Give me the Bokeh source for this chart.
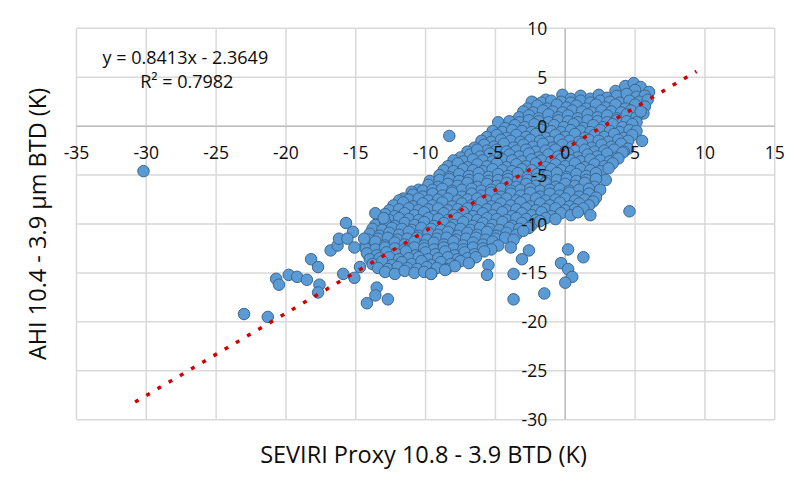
from bokeh.plotting import figure
from bokeh.models import ColumnDataSource, Range1d, FixedTicker
from bokeh.core.properties import value
from bokeh.embed import file_html
from bokeh.resources import INLINE

# ---------------- data ----------------
x_ticks = [-35, -30, -25, -20, -15, -10, -5, 0, 5, 10, 15]
y_ticks = [-30, -25, -20, -15, -10, -5, 0, 5, 10]
x_tick_labels = ["-35", "-30", "-25", "-20", "-15", "-10", "-5", "0", "5", "10", "15"]
y_tick_labels = ["-30", "-25", "-20", "-15", "-10", "-5", "0", "5", "10"]

x_title = "SEVIRI Proxy 10.8 - 3.9 BTD (K)"
y_title = "AHI 10.4 - 3.9 \u00b5m BTD (K)"
eq_lines = ["y = 0.8413x - 2.3649", "R\u00b2 = 0.7982"]
eq_x = [-27.2, -27.1]
eq_y = [7.05, 4.6]

trend_x = [-30.8, 9.4]
trend_y = [-28.2, 5.6]

tip_pts = [(3.6, 3.6), (4.3, 4.1), (4.9, 4.4), (5.4, 4.0), (6.0, 3.5), (5.0, 3.7)]
row_p3 = [(-2.3, 2.4), (-1.4, 2.7), (-0.2, 3.2), (0.4, 2.8), (1.1, 3.1), (1.8, 2.8), (2.4, 3.2),
          (3.0, 2.9), (3.7, 3.1), (4.4, 3.3), (5.1, 3.0), (5.7, 3.1)]
row_p2 = [(-2.7, 1.8), (-2.0, 2.1), (-1.3, 1.8), (-0.6, 2.2), (0.1, 1.9), (0.8, 2.1), (1.5, 1.8),
          (2.2, 2.2), (2.9, 1.9), (3.6, 2.2), (4.3, 1.8), (5.0, 2.2), (5.7, 2.0)]
row_p1 = [(-3.3, 0.9), (-2.6, 1.1), (-1.9, 0.8), (-1.2, 1.2), (-0.5, 0.9), (0.2, 1.1), (0.9, 0.8),
          (1.6, 1.2), (2.3, 0.9), (3.0, 1.1), (3.7, 0.8), (4.4, 1.2), (5.1, 0.9), (5.4, 1.5)]
row_0 = [(-4.8, 0.4), (-4.3, -0.2), (-3.6, 0.1), (-2.9, -0.1), (-2.2, 0.2), (-1.5, -0.2), (-0.8, 0.1),
         (-0.1, -0.1), (0.6, 0.2), (1.3, -0.2), (2.0, 0.1), (2.7, -0.1), (3.4, 0.2), (4.1, -0.1), (4.8, 0.2)]
row_m1 = [(-5.6, -1.1), (-4.9, -0.9), (-4.2, -1.2), (-3.5, -0.9), (-2.8, -1.1), (-2.1, -0.8), (-1.4, -1.2),
          (-0.7, -0.9), (0.0, -1.1), (0.7, -0.8), (1.4, -1.2), (2.1, -0.9), (2.8, -1.1), (3.5, -0.8),
          (4.2, -1.2), (4.8, -0.9), (5.5, -1.5)]
row_m2 = [(-6.5, -2.2), (-5.8, -1.9), (-5.1, -2.1), (-4.4, -1.8), (-3.7, -2.2), (-3.0, -1.9), (-2.3, -2.1),
          (-1.6, -1.8), (-0.9, -2.2), (-0.2, -1.9), (0.5, -2.1), (1.2, -1.8), (1.9, -2.2), (2.6, -1.9),
          (3.3, -2.1), (4.0, -1.8), (4.5, -2.3)]
row_m3 = [(-7.5, -3.2), (-6.8, -2.9), (-6.3, -2.4), (-6.1, -3.1), (-5.4, -2.8), (-4.7, -3.2), (-4.0, -2.9),
          (-3.3, -3.1), (-2.6, -2.8), (-1.9, -3.2), (-1.2, -2.9), (-0.5, -3.1), (0.2, -2.8), (0.9, -3.2),
          (1.6, -2.9), (2.3, -3.1), (3.0, -2.8), (3.7, -3.2), (4.1, -2.7)]
row_m4 = [(-8.4, -4.1), (-7.7, -3.8), (-7.0, -4.2), (-6.3, -3.9), (-5.6, -4.1), (-4.9, -3.8), (-4.2, -4.2),
          (-3.5, -3.9), (-2.8, -4.1), (-2.1, -3.8), (-1.4, -4.2), (-0.7, -3.9), (0.0, -4.1), (0.7, -3.8),
          (1.4, -4.2), (2.1, -3.9), (2.8, -4.1), (3.4, -3.8)]
row_m5 = [(-9.0, -5.0), (-8.3, -5.2), (-7.6, -4.9), (-6.9, -5.1), (-6.2, -4.8), (-5.5, -5.2), (-4.8, -4.9),
          (-4.1, -5.1), (-3.4, -4.8), (-2.7, -5.2), (-2.0, -4.9), (-1.3, -5.1), (-0.6, -4.8), (0.1, -5.2),
          (0.8, -4.9), (1.5, -5.1), (2.2, -4.8), (2.9, -5.5)]
row_m6 = [(-10.5, -6.5), (-9.8, -6.0), (-9.1, -6.2), (-8.4, -5.9), (-7.7, -6.1), (-7.0, -5.8), (-6.3, -6.2),
          (-5.6, -5.9), (-4.9, -6.1), (-4.2, -5.8), (-3.5, -6.2), (-2.8, -5.9), (-2.1, -6.1), (-1.4, -5.8),
          (-0.7, -6.2), (0.0, -5.9), (0.7, -6.1), (1.4, -5.8), (2.1, -6.2), (2.5, -6.5)]
row_m7 = [(-11.6, -7.4), (-10.9, -7.0), (-10.2, -7.2), (-9.5, -6.9), (-8.8, -7.1), (-8.1, -6.8), (-7.4, -7.2),
          (-6.7, -6.9), (-6.0, -7.1), (-5.3, -6.8), (-4.6, -7.2), (-3.9, -6.9), (-3.2, -7.1), (-2.5, -6.8),
          (-1.8, -7.2), (-1.1, -6.9), (-0.4, -7.1), (0.3, -6.8), (1.0, -7.2), (1.7, -6.9), (2.2, -7.3)]
row_m8 = [(-12.3, -8.1), (-11.6, -7.8), (-10.9, -8.2), (-10.2, -7.9), (-9.5, -8.1), (-8.8, -7.8), (-8.1, -8.2),
          (-7.4, -7.9), (-6.7, -8.1), (-6.0, -7.8), (-5.3, -8.2), (-4.6, -7.9), (-3.9, -8.1), (-3.2, -7.8),
          (-2.5, -8.2), (-1.8, -7.9), (-1.1, -8.1), (-0.4, -7.8), (0.3, -8.2), (1.0, -7.9), (1.7, -8.1)]
row_m9 = [(-12.9, -9.0), (-12.2, -9.2), (-11.5, -8.9), (-10.8, -9.1), (-10.1, -8.8), (-9.4, -9.2), (-8.7, -8.9),
          (-8.0, -9.1), (-7.3, -8.8), (-6.6, -9.2), (-5.9, -8.9), (-5.2, -9.1), (-4.5, -8.8), (-3.8, -9.2),
          (-3.1, -8.9), (-2.4, -9.1), (-1.7, -8.8), (-1.0, -9.2), (-0.3, -8.9), (0.4, -9.1), (0.9, -8.8),
          (1.8, -9.1)]
row_m10 = [(-13.6, -10.1), (-12.9, -9.8), (-12.2, -10.2), (-11.5, -9.9), (-10.8, -10.1), (-10.1, -9.8),
           (-9.4, -10.2), (-8.7, -9.9), (-8.0, -10.1), (-7.3, -9.8), (-6.6, -10.2), (-5.9, -9.9), (-5.2, -10.1),
           (-4.5, -9.8), (-3.8, -10.2), (-3.1, -9.9), (-2.4, -10.1), (-1.8, -9.7)]
row_m11 = [(-14.0, -11.0), (-13.3, -11.2), (-12.6, -10.9), (-11.9, -11.1), (-11.2, -10.8), (-10.5, -11.2),
           (-9.8, -10.9), (-9.1, -11.1), (-8.4, -10.8), (-7.7, -11.2), (-7.0, -10.9), (-6.3, -11.1),
           (-5.6, -10.8), (-4.9, -11.2), (-4.2, -10.9), (-3.5, -11.1), (-3.0, -10.7)]
row_m12 = [(-14.3, -12.1), (-13.6, -11.8), (-12.9, -12.2), (-12.2, -11.9), (-11.5, -12.1), (-10.8, -11.8),
           (-10.1, -12.2), (-9.4, -11.9), (-8.7, -12.1), (-8.0, -11.8), (-7.3, -12.2), (-6.6, -11.9),
           (-5.9, -12.1), (-5.2, -11.8), (-4.8, -12.2), (-3.9, -12.4)]
row_m13 = [(-14.2, -13.0), (-13.5, -13.2), (-12.8, -12.9), (-12.1, -13.1), (-11.4, -12.8), (-10.7, -13.2),
           (-10.0, -12.9), (-9.3, -13.1), (-8.6, -12.8), (-7.9, -13.2), (-7.2, -12.9), (-6.5, -13.1),
           (-5.8, -12.8)]
row_m14 = [(-13.8, -14.1), (-13.1, -13.8), (-12.4, -14.2), (-11.7, -13.9), (-11.0, -14.1), (-10.3, -13.8),
           (-9.6, -14.2), (-8.9, -13.9), (-8.2, -14.1), (-7.5, -13.8), (-6.9, -14.0)]
row_m15 = [(-12.9, -14.9), (-12.2, -15.1), (-11.5, -14.8), (-10.8, -15.0), (-10.1, -14.9), (-9.6, -15.1),
           (-8.6, -14.7)]

# in-between rows of the dense core
mid_p25 = [(-2.4, 2.5), (-1.7, 2.4), (-1.0, 2.6), (-0.3, 2.5), (0.4, 2.4), (1.1, 2.6), (1.8, 2.4),
           (2.5, 2.6), (3.2, 2.5), (3.9, 2.4), (4.6, 2.6), (5.3, 2.5), (5.9, 2.7)]
mid_p15 = [(-3.0, 1.5), (-2.3, 1.4), (-1.6, 1.6), (-0.9, 1.5), (-0.2, 1.4), (0.5, 1.6), (1.2, 1.5),
           (1.9, 1.4), (2.6, 1.6), (3.3, 1.5), (4.0, 1.4), (4.7, 1.6), (5.6, 1.3)]
mid_p05 = [(-4.0, 0.5), (-3.3, 0.4), (-2.6, 0.6), (-1.9, 0.5), (-1.2, 0.4), (-0.5, 0.6), (0.2, 0.5),
           (0.9, 0.4), (1.6, 0.6), (2.3, 0.5), (3.0, 0.4), (3.7, 0.6), (4.4, 0.5), (5.1, 0.4)]
mid_m05 = [(-5.2, -0.5), (-4.5, -0.6), (-3.8, -0.4), (-3.1, -0.5), (-2.4, -0.6), (-1.7, -0.4), (-1.0, -0.5),
           (-0.3, -0.6), (0.4, -0.4), (1.1, -0.5), (1.8, -0.6), (2.5, -0.4), (3.2, -0.5), (3.9, -0.6),
           (4.6, -0.4), (5.1, -0.5)]
mid_m15 = [(-6.0, -1.5), (-5.3, -1.6), (-4.6, -1.4), (-3.9, -1.5), (-3.2, -1.6), (-2.5, -1.4), (-1.8, -1.5),
           (-1.1, -1.6), (-0.4, -1.4), (0.3, -1.5), (1.0, -1.6), (1.7, -1.4), (2.4, -1.5), (3.1, -1.6),
           (3.8, -1.4), (4.5, -1.5)]
mid_m25 = [(-7.0, -2.6), (-5.6, -2.5), (-4.9, -2.4), (-4.2, -2.6), (-3.5, -2.5), (-2.8, -2.4), (-2.1, -2.6),
           (-1.4, -2.5), (-0.7, -2.4), (0.0, -2.6), (0.7, -2.5), (1.4, -2.4), (2.1, -2.6), (2.8, -2.5),
           (3.5, -2.4), (4.2, -2.6)]
mid_m35 = [(-8.0, -3.5), (-7.3, -3.6), (-6.6, -3.4), (-5.9, -3.5), (-5.2, -3.6), (-4.5, -3.4), (-3.8, -3.5),
           (-3.1, -3.6), (-2.4, -3.4), (-1.7, -3.5), (-1.0, -3.6), (-0.3, -3.4), (0.4, -3.5), (1.1, -3.6),
           (1.8, -3.4), (2.5, -3.5), (3.2, -3.6), (3.8, -3.3)]
mid_m45 = [(-8.7, -4.5), (-8.0, -4.6), (-7.3, -4.4), (-6.6, -4.5), (-5.9, -4.6), (-5.2, -4.4), (-4.5, -4.5),
           (-3.8, -4.6), (-3.1, -4.4), (-2.4, -4.5), (-1.7, -4.6), (-1.0, -4.4), (-0.3, -4.5), (0.4, -4.6),
           (1.1, -4.4), (1.8, -4.5), (2.5, -4.6), (3.1, -4.3)]
mid_m55 = [(-9.7, -5.6), (-9.0, -5.5), (-8.3, -5.4), (-7.6, -5.6), (-6.9, -5.5), (-6.2, -5.4), (-5.5, -5.6),
           (-4.8, -5.5), (-4.1, -5.4), (-3.4, -5.6), (-2.7, -5.5), (-2.0, -5.4), (-1.3, -5.6), (-0.6, -5.5),
           (0.1, -5.4), (0.8, -5.6), (1.5, -5.5), (2.2, -5.4)]
mid_m65 = [(-11.0, -6.7), (-10.2, -6.6), (-9.5, -6.5), (-8.8, -6.4), (-8.1, -6.6), (-7.4, -6.5), (-6.7, -6.4),
           (-6.0, -6.6), (-5.3, -6.5), (-4.6, -6.4), (-3.9, -6.6), (-3.2, -6.5), (-2.5, -6.4), (-1.8, -6.6),
           (-1.1, -6.5), (-0.4, -6.4), (0.3, -6.6), (1.0, -6.5), (1.7, -6.4)]
mid_m75 = [(-11.9, -7.6), (-11.2, -7.5), (-10.5, -7.4), (-9.8, -7.6), (-9.1, -7.5), (-8.4, -7.4), (-7.7, -7.6),
           (-7.0, -7.5), (-6.3, -7.4), (-5.6, -7.6), (-4.9, -7.5), (-4.2, -7.4), (-3.5, -7.6), (-2.8, -7.5),
           (-2.1, -7.4), (-1.4, -7.6), (-0.7, -7.5), (0.0, -7.4), (0.7, -7.6), (1.4, -7.5), (2.0, -7.7)]
mid_m85 = [(-12.6, -8.6), (-11.9, -8.5), (-11.2, -8.4), (-10.5, -8.6), (-9.8, -8.5), (-9.1, -8.4), (-8.4, -8.6),
           (-7.7, -8.5), (-7.0, -8.4), (-6.3, -8.6), (-5.6, -8.5), (-4.9, -8.4), (-4.2, -8.6), (-3.5, -8.5),
           (-2.8, -8.4), (-2.1, -8.6), (-1.4, -8.5), (-0.7, -8.4), (0.0, -8.6), (0.7, -8.5), (1.3, -8.4)]
mid_m95 = [(-13.3, -9.5), (-12.6, -9.6), (-11.9, -9.4), (-11.2, -9.5), (-10.5, -9.6), (-9.8, -9.4), (-9.1, -9.5),
           (-8.4, -9.6), (-7.7, -9.4), (-7.0, -9.5), (-6.3, -9.6), (-5.6, -9.4), (-4.9, -9.5), (-4.2, -9.6),
           (-3.5, -9.4), (-2.8, -9.5), (-2.1, -9.6), (-1.4, -9.4), (-0.7, -9.5)]
mid_m105 = [(-13.8, -10.5), (-13.1, -10.6), (-12.4, -10.4), (-11.7, -10.5), (-11.0, -10.6), (-10.3, -10.4),
            (-9.6, -10.5), (-8.9, -10.6), (-8.2, -10.4), (-7.5, -10.5), (-6.8, -10.6), (-6.1, -10.4),
            (-5.4, -10.5), (-4.7, -10.6), (-4.0, -10.4), (-3.3, -10.5), (-2.6, -10.4)]
mid_m115 = [(-14.1, -11.6), (-13.4, -11.5), (-12.7, -11.4), (-12.0, -11.6), (-11.3, -11.5), (-10.6, -11.4),
            (-9.9, -11.6), (-9.2, -11.5), (-8.5, -11.4), (-7.8, -11.6), (-7.1, -11.5), (-6.4, -11.4),
            (-5.7, -11.6), (-5.0, -11.5), (-4.3, -11.4), (-3.7, -11.6)]
mid_m125 = [(-14.3, -12.5), (-13.6, -12.6), (-12.9, -12.4), (-12.2, -12.5), (-11.5, -12.6), (-10.8, -12.4),
            (-10.1, -12.5), (-9.4, -12.6), (-8.7, -12.4), (-8.0, -12.5), (-7.3, -12.6), (-6.6, -12.4),
            (-5.9, -12.5), (-5.3, -12.6)]
mid_m135 = [(-14.0, -13.6), (-13.3, -13.5), (-12.6, -13.4), (-11.9, -13.6), (-11.2, -13.5), (-10.5, -13.4),
            (-9.8, -13.6), (-9.1, -13.5), (-8.4, -13.4), (-7.7, -13.6), (-7.0, -13.5), (-6.4, -13.4)]
mid_m145 = [(-13.4, -14.5), (-12.7, -14.6), (-12.0, -14.4), (-11.3, -14.5), (-10.6, -14.6), (-9.9, -14.4),
            (-9.2, -14.5), (-8.5, -14.6), (-7.9, -14.3)]

left_tail = [(-30.2, -4.6), (-23.0, -19.2), (-21.3, -19.5), (-20.7, -15.6), (-20.5, -16.2), (-19.8, -15.2),
             (-19.2, -15.4), (-18.5, -15.7), (-18.2, -13.6), (-17.7, -14.4), (-17.6, -16.2), (-17.7, -17.0),
             (-16.8, -12.7), (-16.3, -12.2), (-16.2, -11.5), (-15.7, -9.9), (-15.2, -10.8), (-15.6, -11.5),
             (-15.1, -12.4), (-15.9, -15.1), (-15.1, -15.5), (-14.4, -11.5), (-14.7, -14.4), (-13.6, -8.9),
             (-13.0, -9.4), (-14.2, -18.1), (-13.5, -16.5), (-13.6, -17.3), (-12.7, -17.7)]
loose_pts = [(-8.3, -1.0), (4.6, -8.7), (0.2, -12.6), (1.3, -13.4), (-0.3, -14.0), (0.2, -14.6), (0.5, -15.4),
             (0.0, -16.0), (-1.5, -17.1), (-3.7, -17.7), (-3.7, -15.1), (-5.5, -14.2), (-5.6, -15.2),
             (-2.6, -12.7), (-3.1, -13.6), (-9.6, -15.1)]

all_groups = [tip_pts, row_p3, mid_p25, row_p2, mid_p15, row_p1, mid_p05, row_0, mid_m05, row_m1, mid_m15,
              row_m2, mid_m25, row_m3, mid_m35, row_m4, mid_m45, row_m5, mid_m55, row_m6, mid_m65,
              row_m7, mid_m75, row_m8, mid_m85, row_m9, mid_m95, row_m10, mid_m105, row_m11, mid_m115,
              row_m12, mid_m125, row_m13, mid_m135, row_m14, mid_m145, row_m15,
              left_tail, loose_pts]
pts_x = [pt[0] for g in all_groups for pt in g]
pts_y = [pt[1] for g in all_groups for pt in g]

# ---------------- figure ----------------
FONT = "Open Sans"
TXT = "#0d0d0d"

p = figure(width=786, height=476,
           x_range=Range1d(-36.0, 15.7), y_range=Range1d(-30.8, 10.8),
           output_backend="svg", toolbar_location=None,
           min_border_left=62, min_border_right=2, min_border_top=20, min_border_bottom=49)
p.outline_line_color = None
p.grid.visible = False
p.background_fill_color = "white"
p.border_fill_color = "white"

for ax in (p.xaxis[0], p.yaxis[0]):
    ax.ticker = FixedTicker(ticks=[])
    ax.axis_line_color = None
    ax.major_tick_line_color = None
    ax.minor_tick_line_color = None
    ax.major_tick_out = 0
    ax.major_tick_in = 0
    ax.major_label_standoff = 0
    ax.axis_label_text_font = FONT
    ax.axis_label_text_font_size = "23.5px"
    ax.axis_label_text_font_style = "normal"
    ax.axis_label_text_color = TXT
p.xaxis.axis_label = x_title
p.yaxis.axis_label = y_title
p.xaxis.axis_label_standoff = 10
p.yaxis.axis_label_standoff = 10

# gridlines drawn only over the tick span
ymin, ymax = min(y_ticks), max(y_ticks)
xmin, xmax = min(x_ticks), max(x_ticks)
p.segment(x0=x_ticks, y0=[ymin] * len(x_ticks), x1=x_ticks, y1=[ymax] * len(x_ticks),
          line_color="#d9d9d9", line_width=1.5)
p.segment(x0=[xmin] * len(y_ticks), y0=y_ticks, x1=[xmax] * len(y_ticks), y1=y_ticks,
          line_color="#d9d9d9", line_width=1.5)
# axes crossing at zero
p.segment(x0=[0], y0=[ymin], x1=[0], y1=[ymax], line_color="#bfbfbf", line_width=1.5)
p.segment(x0=[xmin], y0=[0], x1=[xmax], y1=[0], line_color="#bfbfbf", line_width=1.5)

# scatter
p.scatter(pts_x, pts_y, size=11.5, fill_color="#5b9bd5", line_color="#3b6690", line_width=1)

# trendline
p.line(trend_x, trend_y, line_color="#d40000", line_width=3.5, line_dash="4 9")

# tick labels
xt = ColumnDataSource(dict(x=x_ticks, y=[0] * len(x_ticks), t=x_tick_labels))
p.text(x="x", y="y", text="t", source=xt, y_offset=26, text_align="center", text_baseline="middle",
       text_font=value(FONT), text_font_size="17.5px", text_color=TXT)
yt = ColumnDataSource(dict(x=[0] * len(y_ticks), y=y_ticks, t=y_tick_labels))
p.text(x="x", y="y", text="t", source=yt, x_offset=-18, text_align="right", text_baseline="middle",
       text_font=value(FONT), text_font_size="17.5px", text_color=TXT)

# regression equation
eq = ColumnDataSource(dict(x=eq_x, y=eq_y, t=eq_lines))
p.text(x="x", y="y", text="t", source=eq, text_align="center", text_baseline="middle",
       text_font=value(FONT), text_font_size="18px", text_color=TXT)

open("out.html", "w").write(file_html(p, INLINE))
